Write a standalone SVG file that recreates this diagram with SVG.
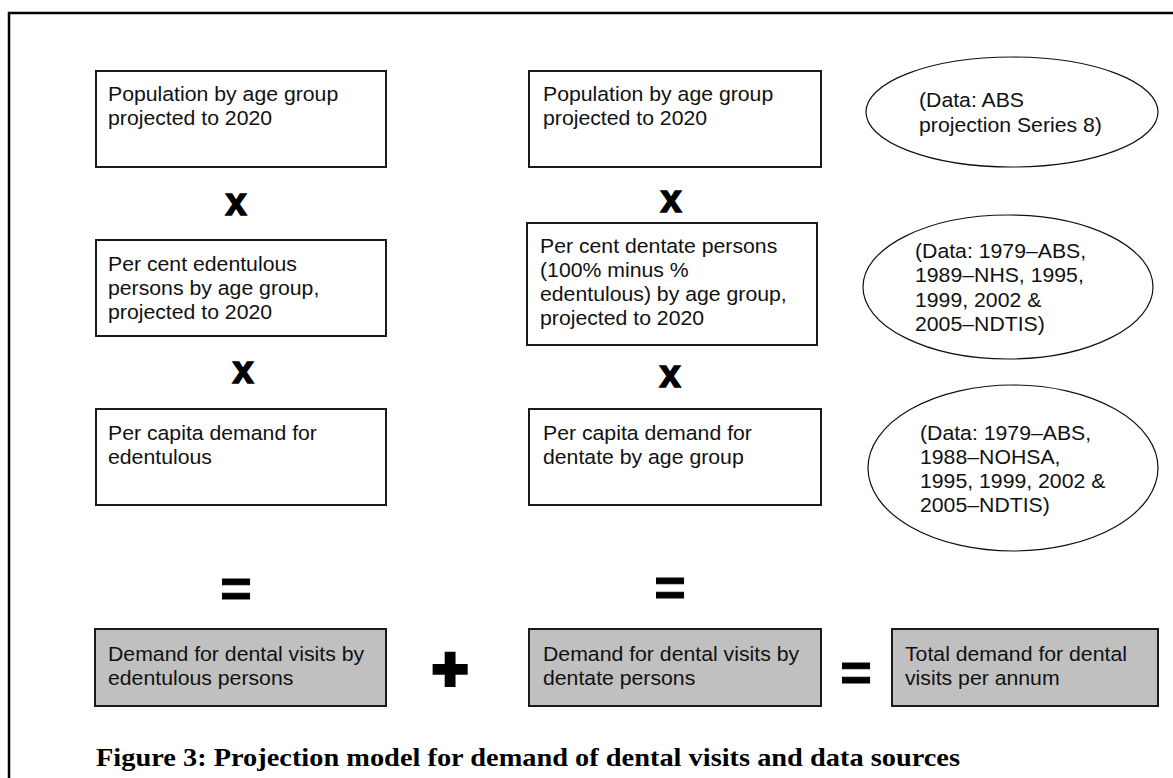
<svg xmlns="http://www.w3.org/2000/svg" width="1173" height="778" viewBox="0 0 1173 778">
<style>
.box{fill:#fff;stroke:#1a1a1a;stroke-width:2}
.gbox{fill:#c0c0c0;stroke:#1a1a1a;stroke-width:2}
.ell{fill:#fff;stroke:#111;stroke-width:1.2}
.t{font-family:"Liberation Sans",Arial,sans-serif;font-size:19.5px;fill:#111}
.op{font-family:"Liberation Sans",Arial,sans-serif;font-weight:bold;fill:#000;stroke:#000;text-anchor:middle}
.cap{font-family:"Liberation Serif","Times New Roman",serif;font-weight:bold;font-size:24.5px;fill:#000}
</style>
<rect width="1173" height="778" fill="#fff"/>
<g id="frame" fill="none" stroke="#000" stroke-width="2.5">
<path d="M9,778 V13 H1173"/>
</g>
<g id="connectors">
<text class="op" x="236" y="215" font-size="38" stroke-width="1.5">x</text>
<text class="op" x="671" y="212" font-size="38" stroke-width="1.5">x</text>
<text class="op" x="243" y="383" font-size="38" stroke-width="1.5">x</text>
<text class="op" x="670" y="387" font-size="38" stroke-width="1.5">x</text>
<text class="op" x="236" y="607" font-size="54" stroke-width="1">=</text>
<text class="op" x="670" y="606" font-size="54" stroke-width="1">=</text>
<text class="op" x="856" y="691" font-size="54" stroke-width="1">=</text>
<text class="op" x="450" y="690" font-size="62" stroke-width="4">+</text>
</g>
<g id="n-pop-left">
<rect class="box" x="96" y="71" width="290" height="96"/>
<text class="t" transform="translate(108,101) scale(1.09,1)"><tspan x="0" y="0">Population by age group</tspan><tspan x="0" y="24">projected to 2020</tspan></text>
</g>
<g id="n-edent-pct">
<rect class="box" x="96" y="240" width="290" height="96"/>
<text class="t" transform="translate(108,271) scale(1.09,1)"><tspan x="0" y="0">Per cent edentulous</tspan><tspan x="0" y="24">persons by age group,</tspan><tspan x="0" y="48">projected to 2020</tspan></text>
</g>
<g id="n-edent-demand">
<rect class="box" x="96" y="409" width="290" height="96"/>
<text class="t" transform="translate(108,440) scale(1.09,1)"><tspan x="0" y="0">Per capita demand for</tspan><tspan x="0" y="24">edentulous</tspan></text>
</g>
<g id="n-pop-mid">
<rect class="box" x="529" y="71" width="292" height="96"/>
<text class="t" transform="translate(543,101) scale(1.09,1)"><tspan x="0" y="0">Population by age group</tspan><tspan x="0" y="24">projected to 2020</tspan></text>
</g>
<g id="n-dent-pct">
<rect class="box" x="527" y="223" width="290" height="122"/>
<text class="t" transform="translate(540,253) scale(1.09,1)"><tspan x="0" y="0">Per cent dentate persons</tspan><tspan x="0" y="24">(100% minus %</tspan><tspan x="0" y="48">edentulous) by age group,</tspan><tspan x="0" y="72">projected to 2020</tspan></text>
</g>
<g id="n-dent-demand">
<rect class="box" x="529" y="409" width="292" height="96"/>
<text class="t" transform="translate(543,440) scale(1.09,1)"><tspan x="0" y="0">Per capita demand for</tspan><tspan x="0" y="24">dentate by age group</tspan></text>
</g>
<g id="n-data1">
<ellipse class="ell" cx="1012" cy="112" rx="146" ry="55"/>
<text class="t" transform="translate(919,107) scale(1.09,1)"><tspan x="0" y="0">(Data: ABS</tspan><tspan x="0" y="25">projection Series 8)</tspan></text>
</g>
<g id="n-data2">
<ellipse class="ell" cx="1008" cy="287" rx="145" ry="72"/>
<text class="t" transform="translate(915,258) scale(1.09,1)"><tspan x="0" y="0">(Data: 1979–ABS,</tspan><tspan x="0" y="24.5">1989–NHS, 1995,</tspan><tspan x="0" y="49">1999, 2002 &amp;</tspan><tspan x="0" y="73.5">2005–NDTIS)</tspan></text>
</g>
<g id="n-data3">
<ellipse class="ell" cx="1013" cy="468" rx="145" ry="83"/>
<text class="t" transform="translate(920,440) scale(1.09,1)"><tspan x="0" y="0">(Data: 1979–ABS,</tspan><tspan x="0" y="24">1988–NOHSA,</tspan><tspan x="0" y="48">1995, 1999, 2002 &amp;</tspan><tspan x="0" y="72">2005–NDTIS)</tspan></text>
</g>
<g id="n-edent-visits">
<rect class="gbox" x="95" y="629" width="291" height="77"/>
<text class="t" transform="translate(108,661) scale(1.09,1)"><tspan x="0" y="0">Demand for dental visits by</tspan><tspan x="0" y="24">edentulous persons</tspan></text>
</g>
<g id="n-dent-visits">
<rect class="gbox" x="529" y="629" width="292" height="77"/>
<text class="t" transform="translate(543,661) scale(1.09,1)"><tspan x="0" y="0">Demand for dental visits by</tspan><tspan x="0" y="24">dentate persons</tspan></text>
</g>
<g id="n-total">
<rect class="gbox" x="892" y="629" width="266" height="77"/>
<text class="t" transform="translate(905,661) scale(1.09,1)"><tspan x="0" y="0">Total demand for dental</tspan><tspan x="0" y="24">visits per annum</tspan></text>
</g>
<g id="caption">
<text class="cap" x="96" y="766" textLength="864" lengthAdjust="spacingAndGlyphs">Figure 3: Projection model for demand of dental visits and data sources</text>
</g>
</svg>
